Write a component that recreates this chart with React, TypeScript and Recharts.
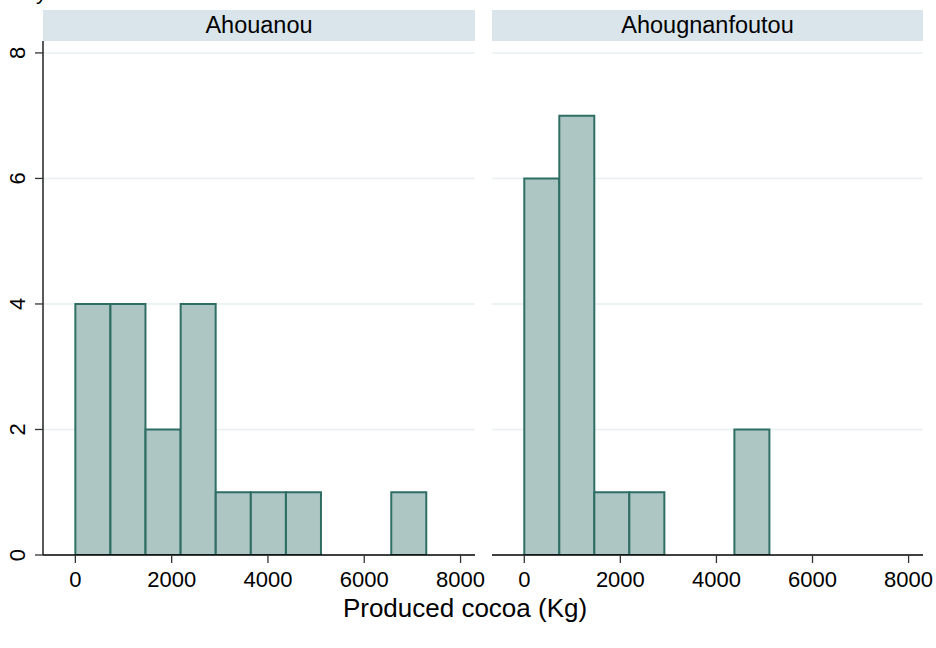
import React from 'react';
import { BarChart, Bar, XAxis, YAxis, CartesianGrid } from 'recharts';

// Histogram bins (lower edges, Kg) shared by both villages
const binLower = [0, 729, 1458, 2187, 2916, 3645, 4374, 5103, 5832, 6561];
const binWidth = 729;

// Frequencies per bin
const ahouanouCounts = [4, 4, 2, 4, 1, 1, 1, 0, 0, 1];
const ahougnanfoutouCounts = [6, 7, 1, 1, 0, 0, 2, 0, 0, 0];

const panelNames = ['Ahouanou', 'Ahougnanfoutou'];
const xTicks = [0, 2000, 4000, 6000, 8000];
const yTicks = [0, 2, 4, 6, 8];
const gridValues = [2, 4, 6, 8];
const xDomain: [number, number] = [-672, 8300];
const yDomain: [number, number] = [0, 8.19];
const xTitle = 'Produced cocoa (Kg)';

const FONT = '"Liberation Sans", Arial, Helvetica, sans-serif';
const BAR_FILL = '#adc6c3';
const BAR_STROKE = '#2e6e64';
const STRIP_FILL = '#d9e5ea';
const GRID = '#e6eff2';

const buildRows = (counts: number[]) =>
  binLower.map((lo, i) => ({ mid: lo + binWidth / 2, count: counts[i] }));

const RotatedYTick = (props: any) => {
  const { x, y, payload } = props;
  return (
    <text
      transform={`translate(${x - 8}, ${y}) rotate(-90)`}
      textAnchor="middle"
      fontFamily={FONT}
      fontSize={22}
      fill="#000"
    >
      {payload.value}
    </text>
  );
};

const X_AXIS_H = 30;

interface PanelProps {
  counts: number[];
  showY: boolean;
  width: number;
  marginLeft: number;
  marginRight: number;
}

const Panel = ({ counts, showY, width, marginLeft, marginRight }: PanelProps) => (
  <BarChart
    width={width}
    height={648}
    data={buildRows(counts)}
    margin={{ top: 41, right: marginRight, bottom: 93 - X_AXIS_H, left: marginLeft }}
    barCategoryGap={0}
    barGap={0}
  >
    <CartesianGrid
      vertical={false}
      horizontalValues={gridValues}
      stroke={GRID}
      strokeWidth={1.5}
    />
    <XAxis
      dataKey="mid"
      type="number"
      domain={xDomain}
      allowDataOverflow
      ticks={xTicks}
      interval={0}
      height={X_AXIS_H}
      tickSize={8}
      tickMargin={8}
      axisLine={{ stroke: '#000', strokeWidth: 1.3 }}
      tickLine={{ stroke: '#333', strokeWidth: 1.3 }}
      tick={{ fontFamily: FONT, fontSize: 22, fill: '#000' }}
    />
    <YAxis
      type="number"
      domain={yDomain}
      allowDataOverflow
      ticks={yTicks}
      interval={0}
      hide={!showY}
      width={showY ? 43 : 0}
      tickSize={8}
      tickMargin={2}
      axisLine={{ stroke: '#000', strokeWidth: 1.3 }}
      tickLine={{ stroke: '#333', strokeWidth: 1.3 }}
      tick={<RotatedYTick />}
    />
    <Bar
      dataKey="count"
      fill={BAR_FILL}
      stroke={BAR_STROKE}
      strokeWidth={2}
      isAnimationActive={false}
    />
  </BarChart>
);

export default function App() {
  const strips = [
    { x: 43, w: 432, label: panelNames[0] },
    { x: 492, w: 431, label: panelNames[1] },
  ];
  return (
    <div
      style={{
        position: 'absolute',
        left: 0,
        top: 0,
        width: 936,
        height: 648,
        background: '#fff',
        overflow: 'hidden',
      }}
    >
      <div style={{ position: 'absolute', left: 0, top: 0 }}>
        <Panel counts={ahouanouCounts} showY width={496} marginLeft={0} marginRight={21} />
      </div>
      <div style={{ position: 'absolute', left: 480, top: 0 }}>
        <Panel counts={ahougnanfoutouCounts} showY={false} width={456} marginLeft={12} marginRight={13} />
      </div>
      <svg
        width={936}
        height={648}
        style={{ position: 'absolute', left: 0, top: 0, pointerEvents: 'none' }}
      >
        {strips.map((s) => (
          <g key={s.label}>
            <rect x={s.x} y={10} width={s.w} height={31} fill={STRIP_FILL} />
            <text
              x={s.x + s.w / 2}
              y={33}
              textAnchor="middle"
              fontFamily={FONT}
              fontSize={23.5}
              fill="#000"
            >
              {s.label}
            </text>
          </g>
        ))}
        <text x={36} y={-1} fontFamily={FONT} fontSize={22} fill="#000">
          y
        </text>
        <text
          x={465}
          y={617}
          textAnchor="middle"
          fontFamily={FONT}
          fontSize={26}
          fill="#000"
        >
          {xTitle}
        </text>
      </svg>
    </div>
  );
}
